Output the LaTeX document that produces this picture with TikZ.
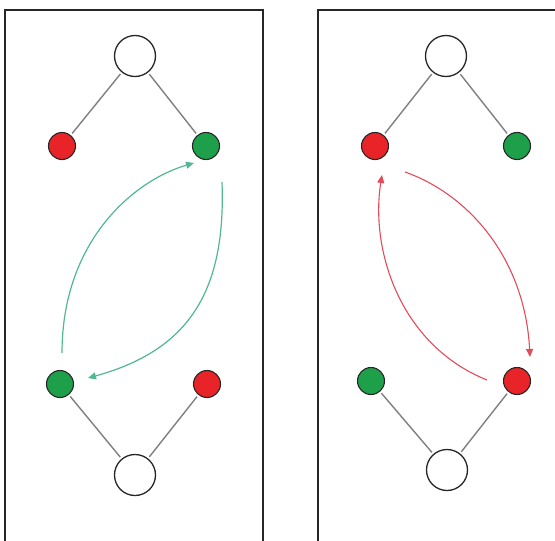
\documentclass[tikz,border=0pt]{standalone}
\usetikzlibrary{arrows.meta}
\definecolor{nodegreen}{RGB}{30,160,75}
\definecolor{nodered}{RGB}{232,36,40}
\definecolor{arrgreen}{RGB}{80,185,145}
\definecolor{arrred}{RGB}{228,75,90}
\definecolor{linkgray}{RGB}{128,128,128}
\tikzset{
  bigc/.style={circle,draw=black!85,line width=1.3pt,fill=white,minimum size=41pt,inner sep=0pt},
  smallc/.style={circle,draw=black!85,line width=1.1pt,minimum size=27pt,inner sep=0pt},
  gc/.style={smallc,fill=nodegreen},
  rc/.style={smallc,fill=nodered},
  link/.style={draw=linkgray,line width=1.4pt,shorten <=2pt,shorten >=2pt},
  garr/.style={draw=arrgreen,line width=1.2pt,-{Triangle[length=8pt,width=7pt]}},
  rarr/.style={draw=arrred,line width=1.1pt,-{Triangle[length=8pt,width=7pt]}},
  frame/.style={draw=black!85,line width=2pt}
}
\begin{document}
\begin{tikzpicture}[x=1pt,y=-1pt]
\useasboundingbox (0,0) rectangle (555,541);
\fill[white] (0,0) rectangle (555,541);
% frames
\draw[frame] (5,560) -- (5,10) -- (263,10) -- (263,560);
\draw[frame] (318,560) -- (318,10) -- (570,10);
% left panel
\node[bigc] (lt) at (135,56) {};
\node[rc] (lr1) at (62,146) {};
\node[gc] (lg1) at (206,146) {};
\node[gc] (lg2) at (60,384) {};
\node[rc] (lr2) at (207,384) {};
\node[bigc] (lb) at (135,475) {};
\draw[link] (lt) -- (lr1);
\draw[link] (lt) -- (lg1);
\draw[link] (lb) -- (lg2);
\draw[link] (lb) -- (lr2);
\coordinate (ga1) at (62,353);
\coordinate (ga2) at (222,182);
\coordinate (ge1) at (194,163);
\coordinate (ge2) at (88,378);
\draw[garr] (ga1) .. controls (62,240) and (135,180) .. (ge1);
\draw[garr] (ga2) .. controls (226,290) and (190,350) .. (ge2);
% right panel
\node[bigc] (rt) at (446,56) {};
\node[rc] (rr1) at (375,146) {};
\node[gc] (rg1) at (517,146) {};
\node[gc] (rg2) at (371,381) {};
\node[rc] (rr2) at (517,381) {};
\node[bigc] (rb) at (447,470) {};
\draw[link] (rt) -- (rr1);
\draw[link] (rt) -- (rg1);
\draw[link] (rb) -- (rg2);
\draw[link] (rb) -- (rr2);
\coordinate (ra1) at (487,380);
\coordinate (ra2) at (405,172);
\coordinate (re1) at (382,175);
\coordinate (re2) at (530,357);
\draw[rarr] (ra1) .. controls (400,345) and (370,250) .. (re1);
\draw[rarr] (ra2) .. controls (470,195) and (525,260) .. (re2);
\end{tikzpicture}
\end{document}
